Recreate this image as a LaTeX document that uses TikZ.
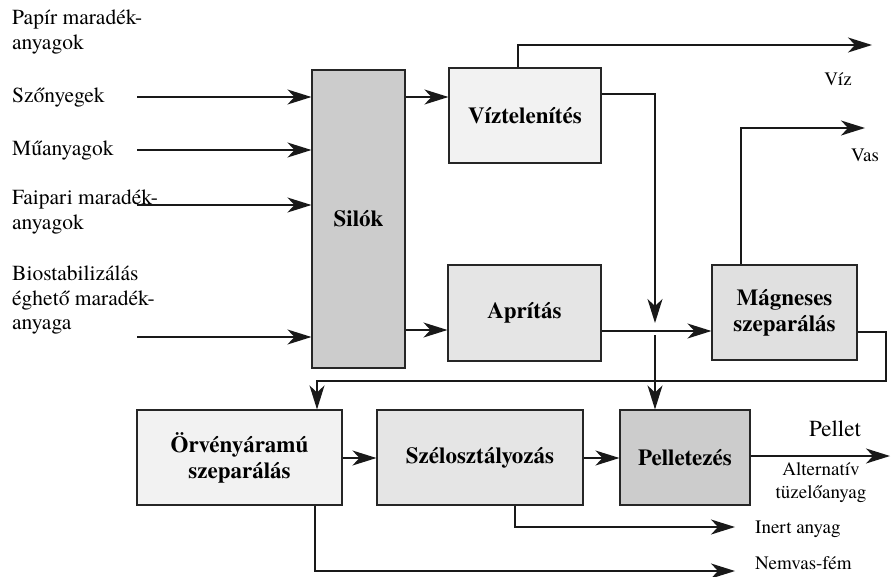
\documentclass[tikz,border=0pt]{standalone}
\usepackage{fontspec}
\setmainfont{TeX Gyre Termes}
\usetikzlibrary{arrows.meta}
\begin{document}
\begin{tikzpicture}[x=1pt,y=-1pt,
  box/.style={draw=black!85,line width=1.1pt,inner sep=0pt,font=\fontsize{23}{26}\selectfont\bfseries,align=center},
  lbl/.style={anchor=west,inner sep=0pt,font=\fontsize{21.5}{24.5}\selectfont,align=left},
  olbl/.style={inner sep=0pt,font=\fontsize{19}{23}\selectfont,align=center},
  conn/.style={line width=1.4pt,black!90},
  arr/.style={conn,-{Stealth[length=24pt,width=15pt,inset=7pt]}}]
\useasboundingbox (0,0) rectangle (894,576);
% boxes
\node[box,fill=black!20,minimum width=93pt,minimum height=298pt] (silok) at (358.5,219) {Silók};
\node[box,fill=black!5,minimum width=152pt,minimum height=95pt] (viz) at (525,115.5) {Víztelenítés};
\node[box,fill=black!10,minimum width=153pt,minimum height=96pt] (apr) at (524.5,313) {Aprítás};
\node[box,fill=black!12,minimum width=145pt,minimum height=95pt] (mag) at (784.5,312.5) {Mágneses\\szeparálás};
\node[box,fill=black!5,minimum width=205pt,minimum height=95pt] (orv) at (239.5,457.5) {Örvényáramú\\szeparálás};
\node[box,fill=black!10,minimum width=206pt,minimum height=95pt] (szel) at (480,457.5) {Szélosztályozás};
\node[box,fill=black!20,minimum width=130pt,minimum height=95pt] (pel) at (685,457.5) {Pelletezés};
% input labels
\node[lbl] (l1) at (12,32) {Papír maradék-\\anyagok};
\node[lbl] (l2) at (12,97) {Szőnyegek};
\node[lbl] (l3) at (12,150) {Műanyagok};
\node[lbl] (l4) at (12,212) {Faipari maradék-\\anyagok};
\node[lbl] (l5) at (12,300) {Biostabilizálás\\éghető maradék-\\anyaga};
% input arrows
\coordinate (i2) at (137,97);
\coordinate (i3) at (137,150);
\coordinate (i4) at (137,205);
\coordinate (i5) at (137,337);
\draw[arr] (i2) -- (i2 -| silok.west);
\draw[arr] (i3) -- (i3 -| silok.west);
\draw[arr] (i4) -- (i4 -| silok.west);
\draw[arr] (i5) -- (i5 -| silok.west);
% silok outputs
\draw[arr] (silok.east |- 0,97) -- (viz.west |- 0,97);
\draw[arr] (silok.east |- 0,330) -- (apr.west |- 0,330);
% water
\coordinate (vw) at (872,45);
\draw[arr] (viz.north -| 518,0) |- (vw);
\node[olbl] (vizl) at (838,79) {Víz};
% viz -> junction
\coordinate (j1) at (655,323);
\coordinate (j2) at (655,335);
\draw[arr] (viz.east |- 0,94) -| (j1);
% apr -> mag
\draw[arr] (apr.east |- 0,331) -- (mag.west |- 0,331);
% junction -> pel
\draw[arr] (j2) -- (j2 |- pel.north);
% vas
\coordinate (vv) at (865,128);
\draw[arr] (mag.north -| 741,0) |- (vv);
\node[olbl] (vasl) at (865,155) {Vas};
% mag -> orv
\coordinate (m1) at (886,332);
\coordinate (m2) at (886,381);
\draw[arr] (mag.east |- m1) -- (m1) -- (m2) -| (orv.north -| 317,0);
% bottom row
\draw[arr] (orv.east |- 0,458) -- (szel.west |- 0,458);
\draw[arr] (szel.east |- 0,458) -- (pel.west |- 0,458);
\coordinate (po) at (890,456);
\draw[arr] (pel.east |- po) -- (po);
\node[inner sep=0pt,font=\fontsize{23}{26}\selectfont] (pell) at (835,429) {Pellet};
\node[olbl] (alt) at (821,483) {Alternatív\\tüzelőanyag};
% inert
\coordinate (ie) at (735,527);
\draw[arr] (szel.south -| 515,0) |- (ie);
\node[olbl,anchor=west] (inl) at (755,529) {Inert anyag};
% nemvas
\coordinate (ne) at (735,571);
\draw[arr] (orv.south -| 315,0) |- (ne);
\node[olbl,anchor=west] (nel) at (755,563) {Nemvas-fém};
\end{tikzpicture}
\end{document}
